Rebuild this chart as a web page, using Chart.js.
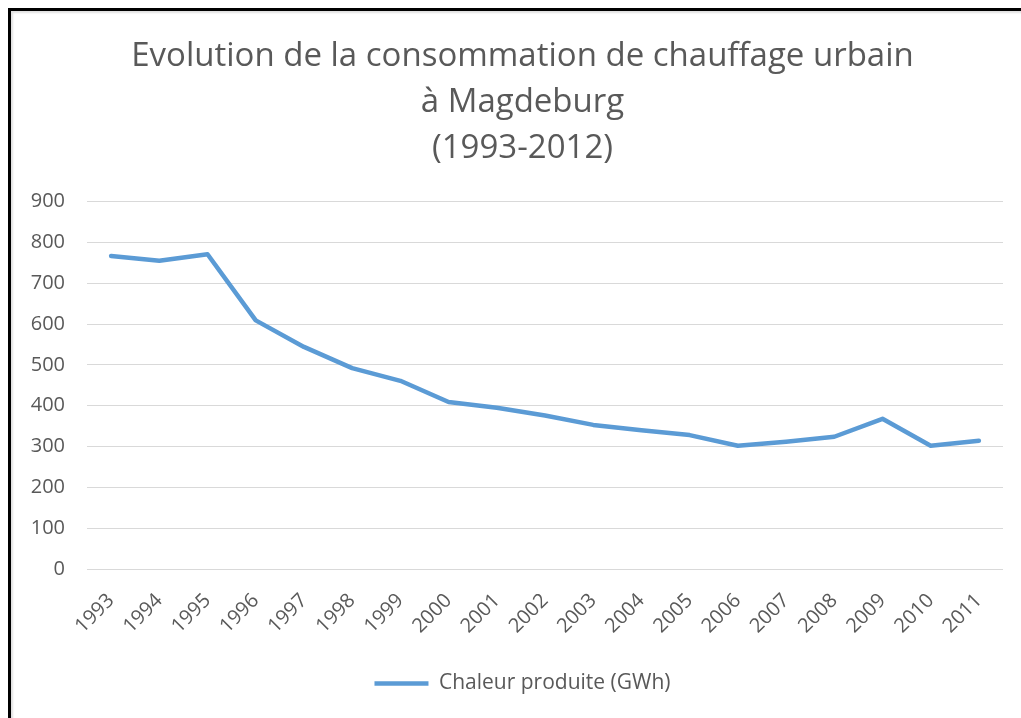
<!DOCTYPE html>
<html>
<head>
<meta charset="utf-8">
<script src="https://cdn.jsdelivr.net/npm/chart.js@4"></script>
<style>
    html, body { margin: 0; padding: 0; background: #fff; overflow: hidden; }
    .frame {
        position: absolute; left: 8px; top: 8px; width: 1100px; height: 800px;
        border-left: 3px solid #000; border-top: 3px solid #000;
        box-shadow: inset 2px 2px 2px rgba(0,0,0,0.12);
    }
    .chart-box { position: absolute; left: 0; top: 0; width: 1021px; height: 718px; z-index: 1; }
</style>
</head>
<body>
<div class="frame"></div>
<div class="chart-box"><canvas id="heatChart"></canvas></div>
<script>
const years = ['1993', '1994', '1995', '1996', '1997', '1998', '1999', '2000', '2001', '2002',
               '2003', '2004', '2005', '2006', '2007', '2008', '2009', '2010', '2011'];
const heatProduced = [767, 755, 771, 609, 544, 492, 461, 409, 395, 376,
                      353, 340, 328, 302, 312, 324, 368, 302, 314];
const titleLines = ['Evolution de la consommation de chauffage urbain', 'à Magdeburg', '(1993-2012)'];
const seriesName = 'Chaleur produite (GWh)';

const grey = '#595959';
const blue = '#5B9BD5';

const ctx = document.getElementById('heatChart').getContext('2d');
new Chart(ctx, {
    type: 'line',
    data: {
        labels: years,
        datasets: [{
            label: seriesName,
            data: heatProduced,
            borderColor: blue,
            backgroundColor: blue,
            borderWidth: 4.5,
            pointRadius: 0,
            tension: 0,
            borderCapStyle: 'round',
            borderJoinStyle: 'round'
        }]
    },
    options: {
        responsive: true,
        maintainAspectRatio: false,
        animation: false,
        layout: { padding: { left: 24, right: 0, top: 10, bottom: 14 } },
        plugins: {
            title: {
                display: true,
                text: titleLines,
                color: grey,
                font: { family: 'Open Sans', size: 33, weight: 'normal', lineHeight: 1.4 },
                padding: { top: 23, bottom: 30 }
            },
            legend: {
                position: 'bottom',
                labels: {
                    color: grey,
                    font: { family: 'Open Sans', size: 21 },
                    usePointStyle: true,
                    pointStyle: 'line',
                    pointStyleWidth: 54,
                    padding: 10
                }
            },
            tooltip: { enabled: false }
        },
        scales: {
            x: {
                offset: true,
                grid: { display: false },
                border: { display: false },
                ticks: {
                    color: grey,
                    font: { family: 'Open Sans', size: 20 },
                    minRotation: 45,
                    maxRotation: 45,
                    autoSkip: false,
                    padding: 12
                },
                afterFit: scale => { scale.height = 94; }
            },
            y: {
                min: 0,
                max: 900,
                grid: { color: '#d9d9d9', lineWidth: 1, drawTicks: false },
                border: { display: false },
                ticks: {
                    stepSize: 100,
                    color: grey,
                    font: { family: 'Open Sans', size: 20 },
                    padding: 22
                },
                afterFit: scale => { scale.width = 63; }
            },
            // empty right-hand axis, only reserves the margin right of the plot
            spacer: {
                type: 'linear',
                position: 'right',
                grid: { display: false },
                border: { display: false },
                ticks: { display: false },
                afterFit: scale => { scale.width = 18; }
            }
        }
    }
});
</script>
</body>
</html>
